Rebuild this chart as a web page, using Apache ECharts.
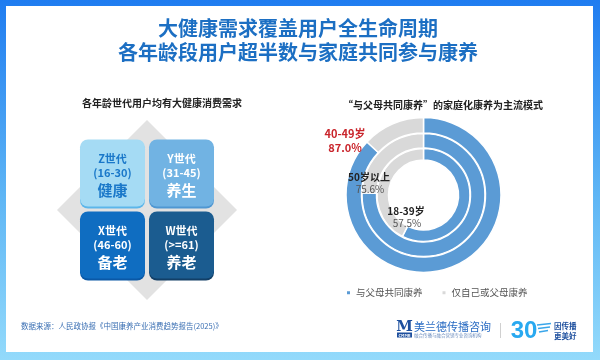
<!DOCTYPE html>
<html>
<head>
<meta charset="utf-8">
<script src="https://cdn.jsdelivr.net/npm/echarts@6/dist/echarts.min.js"></script>
<style>
html,body{margin:0;padding:0;background:#fff;}
#chart{width:600px;height:360px;}
</style>
</head>
<body>
<div id="chart"></div>
<script>
// ---- data ----
const generations = ['Z世代', 'Y世代', 'X世代', 'W世代'];
const ageRanges = ['(16-30)', '(31-45)', '(46-60)', '(>=61)'];
const healthNeeds = ['健康', '养生', '备老', '养老'];
const ringAges = ['18-39岁', '50岁以上', '40-49岁'];          // inner -> outer
const coParentShare = [57.5, 75.6, 87.0];                      // 与父母共同康养 %
const seriesNames = ['与父母共同康养', '仅自己或父母康养'];
const titleLines = ['大健康需求覆盖用户全生命周期', '各年龄段用户超半数与家庭共同参与康养'];

const FONT = '"Noto Sans CJK SC", "Noto Sans", sans-serif';
const boxFill = ['#a5dbf4', '#71b3e3', '#0f6dc1', '#1b5c90'];
const boxEdge = ['#5cb6ea', '#4f97d2', '#0a58a6', '#123f67'];
const boxText = ['#1a78c9', '#ffffff', '#ffffff', '#ffffff'];

const quadData = generations.map((g, i) => [i % 2, 1 - Math.floor(i / 2), i]);

const chart = echarts.init(document.getElementById('chart'), null, {renderer: 'canvas'});

const ringRadius = [[35, 46.5], [47, 61.5], [62, 77.5]];
const pieCenter = [423.5, 195];

const pieSeries = coParentShare.map((v, i) => ({
  type: 'pie',
  name: ringAges[i],
  center: pieCenter,
  radius: ringRadius[i],
  startAngle: 90,
  clockwise: true,
  silent: true,
  label: {show: false},
  labelLine: {show: false},
  itemStyle: {borderColor: '#ffffff', borderWidth: 1.5},
  data: [
    {name: seriesNames[0], value: v},
    {name: seriesNames[1], value: +(100 - v).toFixed(1)}
  ],
  z: 3
}));

// ring labels (text positions)
const labelPos = [
  {x: 406, y: 211, color1: '#222', color2: '#555', w2: 'normal', size: 10},
  {x: 369, y: 177, color1: '#222', color2: '#555', w2: 'normal', size: 10},
  {x: 345, y: 134, color1: '#c9242b', color2: '#c9242b', w2: 'bold', size: 11}
];
const ringLabels = [];
ringAges.forEach((a, i) => {
  const p = labelPos[i];
  ringLabels.push({
    type: 'text', x: p.x, y: p.y, z: 20,
    style: {text: a, font: 'bold ' + p.size + 'px ' + FONT, fill: p.color1, align: 'center', verticalAlign: 'middle'}
  });
  ringLabels.push({
    type: 'text', x: p.x + (i === 2 ? 0 : 1), y: p.y + (i === 2 ? 14 : 12), z: 20,
    style: {text: coParentShare[i].toFixed(1) + '%', font: p.w2 + ' ' + p.size + 'px ' + FONT, fill: p.color2, align: 'center', verticalAlign: 'middle'}
  });
});

const titleTexts = titleLines.map((t, i) => ({
  type: 'text', x: 298, y: 28 + i * 24, z: 20,
  style: {text: t, font: 'bold 20px ' + FONT, fill: '#1c6fc3', align: 'center', verticalAlign: 'middle'}
}));

const option = {
  animation: false,
  color: ['#5b9bd5', '#d9d9d9'],
  title: [
    {
      text: '各年龄世代用户均有大健康消费需求',
      left: 157, top: 93, textAlign: 'center',
      textStyle: {fontFamily: FONT, fontSize: 10, fontWeight: 'bold', color: '#222'}
    },
    {
      text: '“与父母共同康养”的家庭化康养为主流模式',
      left: 438, top: 95, textAlign: 'center',
      textStyle: {fontFamily: FONT, fontSize: 10, fontWeight: 'bold', color: '#222'}
    }
  ],
  legend: {
    data: seriesNames,
    left: 340, top: 283,
    icon: 'rect', itemWidth: 5, itemHeight: 5, itemGap: 18,
    textStyle: {fontFamily: FONT, fontSize: 9.5, color: '#555'},
    selectedMode: false
  },
  grid: {left: 78, top: 138, width: 138, height: 144, containLabel: false},
  xAxis: {type: 'category', data: [0, 1], show: false},
  yAxis: {type: 'category', data: [0, 1], show: false},
  graphic: [
    {type: 'rect', z: -10, shape: {x: 0, y: 0, width: 600, height: 360},
      style: {fill: new echarts.graphic.LinearGradient(0, 0, 0, 1, [{offset: 0, color: '#1f7cf0'}, {offset: 0.55, color: '#5fb6f5'}, {offset: 1, color: '#93dafb'}])}},
    {type: 'rect', z: -9, shape: {x: 6, y: 6, width: 587, height: 346}, style: {fill: '#ffffff'}},
    {type: 'polygon', z: -8, shape: {points: [[147, 120], [237, 210], [147, 300], [57, 210]]}, style: {fill: '#e2e2e2'}},
    {type: 'text', x: 21, y: 326, style: {text: '数据来源：人民政协报《中国康养产业消费趋势报告(2025)》', font: '7.5px ' + FONT, fill: '#3a6fb3', verticalAlign: 'middle'}},
    // logo: 美兰德
    {type: 'text', x: 404.5, y: 327.5, style: {text: 'M', font: 'bold 15px "DejaVu Serif", serif', fill: '#1d4f9e', align: 'center', verticalAlign: 'middle'}},
    {type: 'rect', shape: {x: 397, y: 332.5, width: 15, height: 5}, style: {fill: '#1d4f9e'}},
    {type: 'text', x: 404.5, y: 335, style: {text: 'CMMR', font: 'bold 4px ' + FONT, fill: '#fff', align: 'center', verticalAlign: 'middle'}},
    {type: 'text', x: 414, y: 327, style: {text: '美兰德传播咨询', font: '11px ' + FONT, fill: '#2a6cc3', verticalAlign: 'middle'}},
    {type: 'text', x: 414, y: 335.5, style: {text: '融合传播与融合营销专业咨询机构', font: '4.5px ' + FONT, fill: '#6f8fbf', verticalAlign: 'middle'}},
    {type: 'line', shape: {x1: 500.5, y1: 323, x2: 500.5, y2: 338}, style: {stroke: '#d0d0d0', lineWidth: 1}},
    // logo: 30
    {type: 'text', x: 524, y: 331, style: {text: '30', font: 'bold 24px "Liberation Sans", sans-serif', fill: '#29a9f0', align: 'center', verticalAlign: 'middle'}},
    {type: 'line', shape: {x1: 537, y1: 325, x2: 551, y2: 323.5}, style: {stroke: '#3aa6ea', lineWidth: 1.5}},
    {type: 'line', shape: {x1: 538, y1: 328.5, x2: 550, y2: 327}, style: {stroke: '#3aa6ea', lineWidth: 1.5}},
    {type: 'line', shape: {x1: 539, y1: 332, x2: 548, y2: 330.5}, style: {stroke: '#3aa6ea', lineWidth: 1.5}},
    {type: 'text', x: 554, y: 326, style: {text: '因传播', font: 'bold 7.5px ' + FONT, fill: '#1d4f9e', verticalAlign: 'middle'}},
    {type: 'text', x: 554, y: 336, style: {text: '更美好', font: 'bold 7.5px ' + FONT, fill: '#1d4f9e', verticalAlign: 'middle'}}
  ].concat(titleTexts, ringLabels),
  series: [
    {
      type: 'custom',
      coordinateSystem: 'cartesian2d',
      silent: true,
      z: 5,
      data: quadData,
      renderItem: function (params, api) {
        const c = api.coord([api.value(0), api.value(1)]);
        const s = api.size([1, 1]);
        const idx = api.value(2);
        const w = s[0] - 4, h = s[1] - 5;
        const x = c[0] - w / 2, y = c[1] - h / 2 - 1;
        return {
          type: 'group',
          children: [
            {type: 'rect', shape: {x: x, y: y + 2, width: w, height: h, r: 8}, style: {fill: boxEdge[idx]}},
            {type: 'rect', shape: {x: x, y: y, width: w, height: h, r: 8}, style: {fill: boxFill[idx]}},
            {type: 'text', x: c[0], y: c[1] - 15, style: {text: generations[idx], font: 'bold 11px ' + FONT, fill: boxText[idx], align: 'center', verticalAlign: 'middle'}},
            {type: 'text', x: c[0], y: c[1] - 1, style: {text: ageRanges[idx], font: 'bold 11px ' + FONT, fill: boxText[idx], align: 'center', verticalAlign: 'middle'}},
            {type: 'text', x: c[0], y: c[1] + 16, style: {text: healthNeeds[idx], font: 'bold 15px ' + FONT, fill: boxText[idx], align: 'center', verticalAlign: 'middle'}}
          ]
        };
      }
    }
  ].concat(pieSeries)
};
chart.setOption(option);
</script>
</body>
</html>
